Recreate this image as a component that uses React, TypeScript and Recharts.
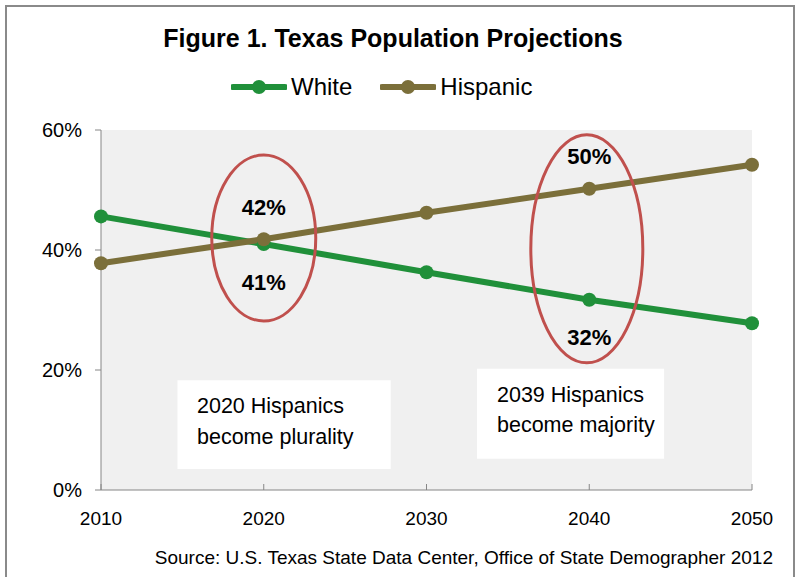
import React from 'react'
import {
  LineChart,
  Line,
  XAxis,
  YAxis,
  CartesianGrid,
  ReferenceArea,
  ReferenceDot,
  LabelList,
} from 'recharts'

const years = [2010, 2020, 2030, 2040, 2050]
const white = [45.6, 41.0, 36.3, 31.7, 27.8]
const hispanic = [37.8, 41.8, 46.2, 50.2, 54.2]
const yTicks = [0, 20, 40, 60]

const WHITE_COLOR = '#20903a'
const HISP_COLOR = '#7b6f3a'
const RING = '#c0504d'
const FONT = '"Liberation Sans", Arial, sans-serif'

const data = years.map((year, i) => ({ year, white: white[i], hispanic: hispanic[i] }))

// only the 2020 and 2040 points carry a label
const labelYears = [2020, 2040]

function makeLabel(place: 'above' | 'below', dist: number) {
  return (props: any) => {
    const { x, y, value, index } = props
    if (!labelYears.includes(years[index])) return null
    const ty = place === 'above' ? y - dist : y + dist
    return (
      <text
        x={x}
        y={ty}
        textAnchor="middle"
        dominantBaseline="central"
        fontFamily={FONT}
        fontWeight="bold"
        fontSize={22}
        fill="#000"
      >
        {Math.round(value)}%
      </text>
    )
  }
}

const ring = (rx: number, ry: number) => (props: any) => (
  <ellipse cx={props.cx} cy={props.cy} rx={rx} ry={ry} fill="none" stroke={RING} strokeWidth={3} />
)

function LegendItem({ color, label }: { color: string; label: string }) {
  return (
    <span style={{ display: 'inline-flex', alignItems: 'center', marginRight: 28 }}>
      <svg width={56} height={16} style={{ marginRight: 4 }}>
        <line x1={2} y1={8} x2={54} y2={8} stroke={color} strokeWidth={6} strokeLinecap="round" />
        <circle cx={28} cy={8} r={7} fill={color} />
      </svg>
      <span>{label}</span>
    </span>
  )
}

export default function App() {
  return (
    <div
      style={{
        position: 'absolute',
        left: 0,
        top: 0,
        width: 797,
        height: 577,
        background: '#fff',
        overflow: 'hidden',
        fontFamily: FONT,
      }}
    >
      <div
        style={{
          position: 'absolute',
          left: 5,
          top: 5,
          width: 786,
          height: 600,
          border: '2px solid #8a8a8a',
        }}
      />
      <div
        style={{
          position: 'absolute',
          left: 0,
          width: 786,
          top: 24,
          textAlign: 'center',
          fontWeight: 'bold',
          fontSize: 25,
        }}
      >
        Figure 1. Texas Population Projections
      </div>
      <div
        style={{
          position: 'absolute',
          left: 231,
          top: 73,
          fontSize: 24,
          display: 'flex',
          whiteSpace: 'nowrap',
        }}
      >
        <LegendItem color={WHITE_COLOR} label="White" />
        <LegendItem color={HISP_COLOR} label="Hispanic" />
      </div>
      <div style={{ position: 'absolute', left: 0, top: 0 }}>
        <LineChart
          width={797}
          height={577}
          data={data}
          margin={{ top: 130, right: 45, bottom: 57, left: 41 }}
        >
          <CartesianGrid horizontal={false} vertical={false} fill="#f0f0f0" />
          <XAxis
            dataKey="year"
            type="number"
            domain={[2010, 2050]}
            ticks={years}
            height={30}
            stroke="#868686"
            tickSize={-6}
            tickMargin={28}
            tick={{ fill: '#000', fontSize: 19, fontFamily: FONT }}
          />
          <YAxis
            domain={[0, 60]}
            ticks={yTicks}
            width={60}
            stroke="#868686"
            tickSize={6}
            tickMargin={13}
            tickFormatter={(v: number) => `${v}%`}
            tick={{ fill: '#000', fontSize: 20, fontFamily: FONT }}
          />
          <ReferenceArea x1={2014.7} x2={2027.8} y1={3.5} y2={18.3} fill="#fff" fillOpacity={1} stroke="none" />
          <ReferenceArea x1={2033.1} x2={2044.6} y1={5.2} y2={20.2} fill="#fff" fillOpacity={1} stroke="none" />
          <Line
            dataKey="white"
            stroke={WHITE_COLOR}
            strokeWidth={6}
            dot={{ r: 7, fill: WHITE_COLOR, stroke: 'none' }}
            isAnimationActive={false}
          >
            <LabelList dataKey="white" content={makeLabel('below', 38)} />
          </Line>
          <Line
            dataKey="hispanic"
            stroke={HISP_COLOR}
            strokeWidth={6}
            dot={{ r: 7, fill: HISP_COLOR, stroke: 'none' }}
            isAnimationActive={false}
          >
            <LabelList dataKey="hispanic" content={makeLabel('above', 32)} />
          </Line>
          <ReferenceDot x={2020} y={42} shape={ring(52, 83)} />
          <ReferenceDot x={2039.85} y={40.2} shape={ring(56, 114)} />
        </LineChart>
      </div>
      <div style={{ position: 'absolute', left: 197, top: 391, fontSize: 21.5, lineHeight: '31px' }}>
        2020 Hispanics
        <br />
        become plurality
      </div>
      <div style={{ position: 'absolute', left: 497, top: 380, fontSize: 21.5, lineHeight: '30px' }}>
        2039 Hispanics
        <br />
        become majority
      </div>
      <div style={{ position: 'absolute', left: 0, width: 773, top: 547, textAlign: 'right', fontSize: 19 }}>
        Source: U.S. Texas State Data Center, Office of State Demographer 2012
      </div>
    </div>
  )
}
